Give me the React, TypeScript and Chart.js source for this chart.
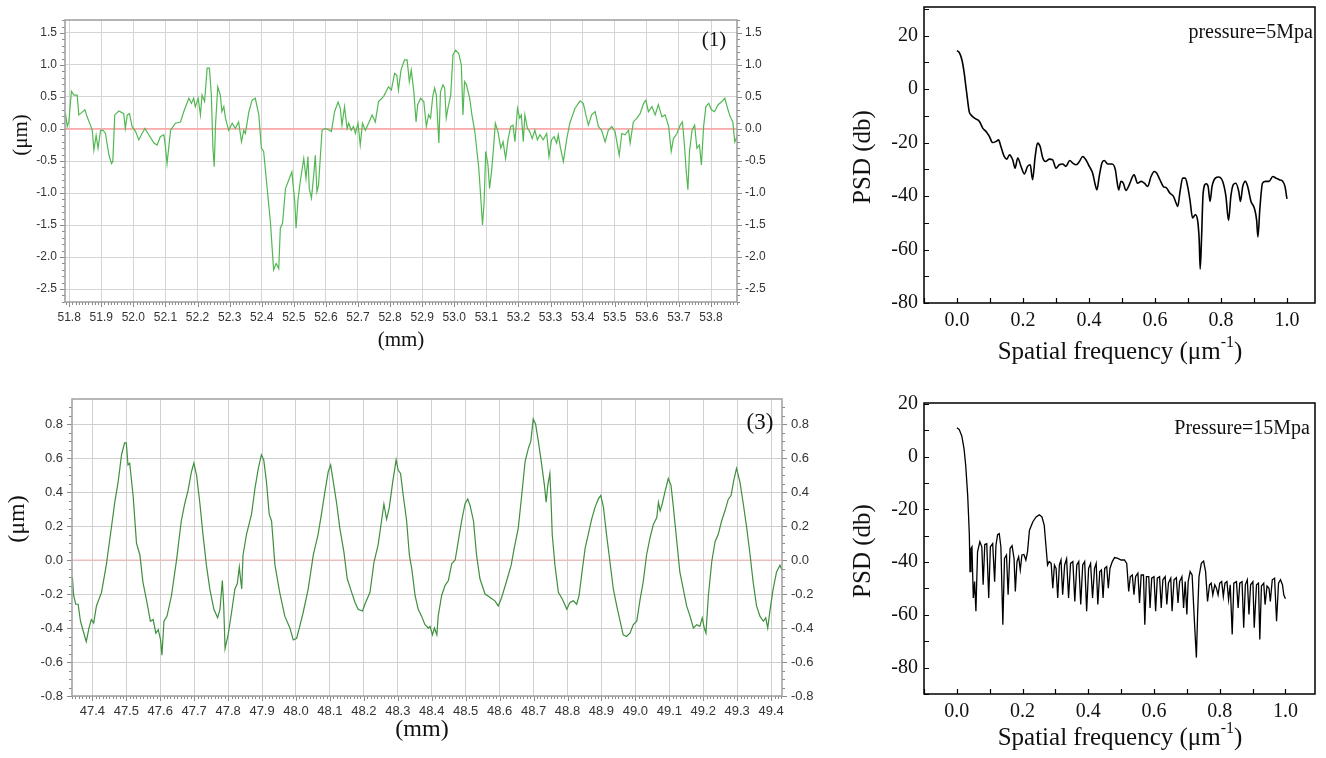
import React, { useEffect, useRef } from "react";
import { Chart, registerables } from "chart.js";

Chart.register(...registerables);

// ---------------- data ----------------
// Panel (1): surface profile, x in mm, height in µm
const PROFILE_1: [number, number][] = [
  [51.787,0.24],[51.789,0.22],[51.794,0.04],[51.799,0.11],[51.807,0.59],[51.815,0.53],[51.825,0.53],[51.830,0.22],[51.835,0.24],[51.849,0.30],[51.856,0.19],[51.866,0.06],[51.872,-0.02],[51.877,-0.33],[51.884,-0.10],[51.890,-0.30],[51.898,-0.02],[51.906,-0.02],[51.913,-0.07],[51.924,-0.41],[51.932,-0.54],[51.936,-0.51],[51.942,0.22],[51.955,0.28],[51.970,0.24],[51.975,0.01],[51.981,0.22],[51.988,0.24],[51.996,0.04],[52.007,-0.04],[52.017,-0.17],[52.027,-0.07],[52.036,0.01],[52.048,-0.09],[52.064,-0.22],[52.074,-0.25],[52.084,-0.12],[52.095,-0.09],[52.100,-0.28],[52.105,-0.54],[52.116,-0.02],[52.131,0.09],[52.147,0.11],[52.157,0.27],[52.173,0.48],[52.181,0.40],[52.188,0.48],[52.193,0.35],[52.202,0.48],[52.209,0.22],[52.214,0.53],[52.222,0.43],[52.230,0.95],[52.237,0.95],[52.243,0.53],[52.248,-0.30],[52.252,-0.59],[52.256,0.06],[52.263,0.66],[52.271,0.53],[52.276,0.27],[52.282,0.35],[52.287,0.17],[52.297,-0.02],[52.308,0.09],[52.318,0.01],[52.328,0.11],[52.337,-0.20],[52.344,-0.02],[52.349,-0.07],[52.360,0.27],[52.370,0.45],[52.380,0.48],[52.391,0.22],[52.399,-0.30],[52.406,-0.35],[52.417,-0.93],[52.427,-1.45],[52.437,-2.20],[52.445,-2.10],[52.453,-2.18],[52.458,-1.55],[52.465,-1.47],[52.474,-0.93],[52.484,-0.80],[52.494,-0.67],[52.503,-1.14],[52.507,-1.55],[52.513,-1.11],[52.520,-0.82],[52.531,-0.46],[52.538,-0.77],[52.544,-0.43],[52.548,-0.93],[52.555,-1.08],[52.562,-0.72],[52.567,-0.41],[52.572,-0.98],[52.577,-0.88],[52.588,-0.02],[52.598,0.01],[52.611,-0.02],[52.617,-0.04],[52.627,0.27],[52.638,0.42],[52.645,0.32],[52.650,0.06],[52.658,0.35],[52.666,0.01],[52.671,0.09],[52.679,-0.02],[52.686,0.04],[52.692,-0.07],[52.700,0.09],[52.707,-0.25],[52.714,0.09],[52.723,-0.02],[52.733,0.09],[52.744,0.22],[52.754,0.11],[52.764,0.43],[52.780,0.51],[52.795,0.66],[52.804,0.61],[52.814,0.87],[52.821,0.84],
  [52.826,0.61],[52.834,0.92],[52.845,1.08],[52.853,1.08],[52.860,0.74],[52.866,0.92],[52.874,0.58],[52.881,0.11],[52.886,0.38],[52.895,0.48],[52.905,0.43],[52.913,0.04],[52.920,0.22],[52.926,0.17],[52.933,0.51],[52.939,0.64],[52.944,0.53],[52.949,0.06],[52.952,-0.22],[52.957,0.58],[52.965,0.69],[52.970,0.64],[52.975,0.17],[52.980,0.32],[52.989,0.53],[52.996,1.16],[53.004,1.23],[53.014,1.18],[53.022,1.00],[53.027,0.22],[53.032,0.74],[53.038,0.69],[53.048,0.48],[53.055,0.22],[53.064,-0.04],[53.072,-0.41],[53.076,-0.59],[53.082,-1.03],[53.088,-1.50],[53.093,-1.14],[53.098,-0.35],[53.105,-0.56],[53.110,-0.93],[53.116,-0.67],[53.121,-0.38],[53.128,0.09],[53.136,-0.04],[53.145,-0.30],[53.152,-0.20],[53.160,-0.46],[53.168,-0.15],[53.176,0.04],[53.183,0.06],[53.189,-0.20],[53.197,0.32],[53.204,0.17],[53.209,0.22],[53.215,-0.20],[53.220,0.22],[53.228,0.01],[53.235,-0.04],[53.243,-0.15],[53.251,-0.02],[53.259,-0.17],[53.267,-0.09],[53.277,-0.17],[53.288,-0.07],[53.295,-0.43],[53.303,-0.17],[53.311,-0.12],[53.319,-0.22],[53.324,-0.09],[53.331,-0.30],[53.340,-0.51],[53.350,-0.17],[53.360,0.09],[53.376,0.32],[53.392,0.44],[53.402,0.40],[53.410,0.22],[53.418,0.06],[53.428,0.22],[53.439,0.27],[53.449,0.04],[53.459,-0.02],[53.470,-0.20],[53.480,-0.02],[53.491,0.04],[53.501,-0.04],[53.514,-0.41],[53.522,-0.07],[53.532,-0.09],[53.543,-0.02],[53.548,-0.22],[53.558,0.11],[53.569,0.17],[53.579,0.24],[53.590,0.40],[53.597,0.45],[53.605,0.27],[53.616,0.35],[53.626,0.22],[53.636,0.38],[53.647,0.19],[53.657,0.22],[53.668,0.04],[53.676,-0.35],[53.683,-0.15],[53.694,-0.07],[53.704,0.06],[53.711,0.11],[53.718,-0.30],[53.722,-0.61],[53.728,-0.95],[53.733,-0.35],[53.741,-0.02],[53.749,0.06],[53.756,-0.30],[53.764,-0.25],[53.770,-0.56],[53.777,0.04],[53.784,0.35],[53.793,0.40],[53.801,0.30],[53.811,0.27],[53.822,0.38],[53.834,0.43],[53.843,0.48],[53.853,0.30],[53.860,0.19],[53.868,0.11],[53.874,-0.20],[53.881,-0.12],
];

// Panel (3): surface profile, x in mm, height in µm
const PROFILE_3: [number, number][] = [
  [47.341,-0.10],[47.345,-0.21],[47.351,-0.26],[47.358,-0.26],[47.365,-0.36],[47.372,-0.41],[47.382,-0.48],[47.390,-0.40],[47.397,-0.35],[47.404,-0.37],[47.412,-0.27],[47.427,-0.19],[47.441,-0.03],[47.456,0.19],[47.466,0.34],[47.476,0.46],[47.486,0.62],[47.495,0.69],[47.500,0.69],[47.505,0.56],[47.510,0.57],[47.520,0.38],[47.530,0.10],[47.540,0.03],[47.549,-0.13],[47.561,-0.25],[47.571,-0.36],[47.579,-0.35],[47.587,-0.43],[47.594,-0.41],[47.601,-0.47],[47.605,-0.56],[47.611,-0.36],[47.620,-0.33],[47.633,-0.21],[47.648,0.00],[47.662,0.23],[47.672,0.33],[47.682,0.41],[47.692,0.52],[47.699,0.57],[47.707,0.50],[47.717,0.33],[47.726,0.15],[47.736,-0.03],[47.746,-0.17],[47.758,-0.29],[47.769,-0.34],[47.776,-0.29],[47.783,-0.12],[47.787,-0.27],[47.791,-0.52],[47.800,-0.44],[47.810,-0.31],[47.820,-0.17],[47.827,-0.14],[47.833,-0.04],[47.836,-0.10],[47.840,-0.17],[47.844,0.03],[47.854,0.15],[47.869,0.27],[47.879,0.42],[47.889,0.54],[47.898,0.62],[47.905,0.59],[47.913,0.46],[47.921,0.27],[47.928,0.23],[47.938,-0.03],[47.952,-0.19],[47.967,-0.33],[47.982,-0.40],[47.992,-0.47],[48.002,-0.46],[48.011,-0.39],[48.021,-0.31],[48.036,-0.17],[48.051,0.03],[48.065,0.15],[48.075,0.27],[48.085,0.40],[48.095,0.52],[48.102,0.56],[48.110,0.46],[48.120,0.33],[48.129,0.19],[48.141,0.05],[48.151,-0.11],[48.164,-0.19],[48.174,-0.25],[48.183,-0.29],[48.196,-0.30],[48.203,-0.26],[48.218,-0.19],[48.230,-0.01],[48.242,0.09],[48.252,0.23],[48.259,0.33],[48.267,0.24],[48.275,0.31],[48.285,0.46],[48.295,0.59],[48.301,0.53],[48.308,0.51],[48.316,0.38],[48.326,0.23],[48.334,0.03],[48.341,-0.05],[48.351,-0.21],[48.360,-0.29],[48.370,-0.33],[48.380,-0.38],[48.390,-0.40],[48.395,-0.39],[48.402,-0.44],[48.408,-0.40],[48.415,-0.44],[48.419,-0.33],
  [48.429,-0.21],[48.439,-0.15],[48.449,-0.12],[48.459,-0.02],[48.469,0.00],[48.478,0.11],[48.488,0.23],[48.498,0.33],[48.506,0.36],[48.513,0.32],[48.523,0.23],[48.532,0.03],[48.542,-0.11],[48.557,-0.20],[48.572,-0.22],[48.586,-0.24],[48.596,-0.27],[48.606,-0.22],[48.621,-0.12],[48.634,-0.03],[48.643,0.07],[48.655,0.19],[48.665,0.38],[48.675,0.58],[48.685,0.66],[48.692,0.70],[48.699,0.83],[48.706,0.80],[48.714,0.70],[48.724,0.56],[48.732,0.44],[48.737,0.34],[48.742,0.44],[48.748,0.51],[48.751,0.38],[48.755,0.15],[48.763,-0.03],[48.773,-0.19],[48.785,-0.23],[48.798,-0.29],[48.807,-0.25],[48.817,-0.24],[48.827,-0.26],[48.834,-0.21],[48.844,-0.05],[48.852,0.07],[48.861,0.15],[48.871,0.24],[48.881,0.31],[48.891,0.36],[48.898,0.38],[48.906,0.31],[48.915,0.15],[48.925,-0.01],[48.935,-0.17],[48.945,-0.27],[48.955,-0.36],[48.964,-0.44],[48.974,-0.45],[48.984,-0.43],[48.994,-0.38],[49.004,-0.36],[49.014,-0.23],[49.023,-0.13],[49.033,0.03],[49.043,0.13],[49.053,0.21],[49.063,0.25],[49.068,0.34],[49.073,0.29],[49.079,0.33],[49.087,0.40],[49.097,0.48],[49.105,0.44],[49.112,0.31],[49.122,0.11],[49.131,-0.07],[49.141,-0.17],[49.151,-0.27],[49.161,-0.33],[49.171,-0.40],[49.181,-0.38],[49.190,-0.39],[49.197,-0.34],[49.203,-0.40],[49.208,-0.43],[49.215,-0.21],[49.225,-0.01],[49.235,0.11],[49.244,0.15],[49.254,0.23],[49.264,0.29],[49.274,0.36],[49.282,0.38],[49.289,0.46],[49.298,0.54],[49.308,0.46],[49.318,0.33],[49.328,0.19],[49.338,0.03],[49.347,-0.13],[49.357,-0.27],[49.367,-0.33],[49.377,-0.36],[49.384,-0.34],[49.390,-0.40],[49.397,-0.29],[49.406,-0.17],[49.416,-0.07],[49.426,-0.03],[49.432,-0.06],
];

// PSD at pressure = 5 MPa (spatial frequency µm^-1, dB)
const PSD_5MPA: [number, number][] = [
  [0.000,14.4],[0.007,13.6],[0.015,10.9],[0.022,5.9],[0.027,0.9],[0.032,-4.0],[0.037,-8.4],[0.042,-9.6],[0.053,-10.9],[0.068,-12.1],[0.078,-14.6],[0.088,-15.9],[0.098,-17.7],[0.108,-20.0],[0.118,-19.6],[0.126,-19.0],[0.133,-21.5],[0.143,-25.2],[0.151,-26.2],[0.159,-24.6],[0.169,-26.5],[0.176,-29.6],[0.184,-25.8],[0.194,-28.9],[0.204,-31.7],[0.214,-28.9],[0.222,-28.3],[0.229,-33.9],[0.237,-25.2],[0.244,-20.2],[0.252,-21.5],[0.260,-25.8],[0.268,-27.1],[0.280,-26.2],[0.290,-26.5],[0.300,-29.6],[0.310,-28.3],[0.320,-28.0],[0.330,-28.9],[0.342,-26.7],[0.351,-27.7],[0.361,-28.3],[0.371,-27.1],[0.381,-25.2],[0.391,-26.5],[0.401,-28.9],[0.411,-31.4],[0.419,-35.8],[0.424,-37.7],[0.431,-32.7],[0.439,-27.7],[0.446,-26.7],[0.457,-28.0],[0.470,-28.0],[0.480,-30.2],[0.485,-34.5],[0.490,-37.7],[0.497,-34.5],[0.504,-35.2],[0.512,-37.9],[0.522,-35.8],[0.532,-32.7],[0.537,-32.1],[0.547,-35.2],[0.558,-34.5],[0.568,-35.2],[0.578,-36.4],[0.588,-32.7],[0.598,-30.8],[0.605,-31.4],[0.615,-33.9],[0.625,-36.4],[0.635,-37.0],[0.645,-38.9],[0.656,-40.1],[0.664,-42.6],[0.669,-43.9],[0.676,-38.3],[0.684,-33.3],[0.692,-33.3],[0.699,-36.4],[0.706,-41.4],[0.714,-48.2],[0.722,-47.0],[0.729,-48.9],[0.734,-56.3],[0.737,-67.3],[0.741,-56.3],[0.746,-38.9],[0.755,-35.4],[0.761,-36.4],[0.767,-42.0],[0.773,-36.4],[0.783,-33.3],[0.793,-32.9],[0.805,-34.5],[0.815,-40.1],[0.823,-49.1],[0.830,-40.1],[0.837,-35.8],[0.845,-35.2],[0.854,-38.3],[0.859,-42.0],[0.866,-36.4],[0.874,-34.5],[0.881,-36.4],[0.891,-42.0],[0.901,-44.5],[0.908,-48.9],[0.912,-55.3],[0.918,-44.5],[0.926,-35.2],[0.936,-34.5],[0.946,-34.5],[0.957,-32.7],[0.967,-33.3],[0.977,-33.9],[0.987,-34.5],[0.994,-36.4],[1.000,-41.1],
];

// PSD at pressure = 15 MPa (spatial frequency µm^-1, dB)
const PSD_15MPA: [number, number][] = [
  [0.000,10.9],[0.007,10.3],[0.015,7.8],[0.022,2.8],[0.027,-3.5],[0.033,-14.8],[0.036,-23.6],[0.038,-29.8],[0.040,-43.6],[0.043,-34.8],[0.046,-34.2],[0.050,-53.6],[0.054,-47.4],[0.058,-58.6],[0.063,-36.1],[0.070,-32.3],[0.076,-34.2],[0.080,-48.6],[0.085,-33.3],[0.091,-33.0],[0.097,-53.6],[0.102,-34.2],[0.109,-33.0],[0.115,-47.4],[0.119,-33.6],[0.124,-29.6],[0.129,-29.2],[0.134,-34.2],[0.140,-63.7],[0.145,-38.6],[0.151,-37.3],[0.156,-52.4],[0.162,-34.8],[0.168,-33.8],[0.174,-38.6],[0.178,-51.1],[0.183,-39.8],[0.188,-38.0],[0.193,-43.0],[0.198,-37.3],[0.204,-37.1],[0.210,-39.2],[0.215,-36.1],[0.221,-27.9],[0.231,-24.8],[0.241,-22.9],[0.251,-22.1],[0.259,-22.9],[0.266,-26.1],[0.271,-33.6],[0.276,-41.1],[0.281,-39.8],[0.287,-40.5],[0.292,-49.9],[0.297,-41.1],[0.302,-42.4],[0.307,-53.6],[0.312,-41.1],[0.317,-39.2],[0.322,-52.4],[0.328,-41.1],[0.334,-38.8],[0.340,-53.6],[0.346,-40.5],[0.353,-39.8],[0.359,-54.9],[0.365,-41.1],[0.371,-39.8],[0.377,-56.1],[0.383,-41.1],[0.389,-39.8],[0.395,-58.6],[0.401,-42.4],[0.407,-40.5],[0.413,-53.6],[0.419,-42.4],[0.424,-40.5],[0.429,-56.1],[0.435,-43.6],[0.440,-43.0],[0.445,-53.6],[0.450,-42.4],[0.456,-41.7],[0.461,-49.9],[0.466,-42.4],[0.473,-39.8],[0.480,-38.3],[0.490,-38.6],[0.500,-39.2],[0.510,-39.2],[0.517,-40.5],[0.523,-51.1],[0.528,-45.5],[0.534,-44.9],[0.539,-52.4],[0.544,-45.5],[0.551,-44.2],[0.556,-55.5],[0.561,-44.9],[0.568,-44.9],[0.572,-63.7],[0.577,-45.5],[0.584,-45.5],[0.588,-57.4],[0.593,-46.1],[0.600,-45.5],[0.605,-58.6],[0.610,-46.1],[0.617,-45.5],[0.622,-57.4],[0.627,-46.7],[0.634,-45.5],[0.639,-56.1],[0.644,-47.9],[0.651,-46.1],[0.655,-58.6],[0.661,-46.7],[0.668,-45.9],[0.673,-55.5],[0.678,-47.4],[0.685,-45.5],[0.690,-57.4],[0.695,-47.4],[0.700,-59.9],[0.704,-47.4],[0.710,-43.6],[0.716,-44.9],[0.720,-54.9],[0.724,-64.9],[0.729,-76.2],[0.733,-58.6],[0.737,-45.5],[0.744,-40.5],[0.751,-39.6],[0.757,-43.6],[0.763,-54.9],[0.769,-48.6],[0.774,-48.0],[0.779,-52.4],[0.785,-48.6],[0.790,-49.9],[0.795,-52.4],[0.800,-48.0],[0.806,-47.4],[0.811,-53.0],[0.816,-48.0],[0.822,-47.4],[0.827,-54.2],[0.832,-48.6],[0.838,-67.4],[0.843,-48.0],[0.851,-47.4],[0.856,-57.4],[0.861,-48.0],[0.868,-47.4],[0.873,-64.9],[0.878,-48.6],[0.884,-46.7],[0.889,-59.9],[0.894,-48.6],[0.901,-47.4],[0.905,-64.9],[0.912,-48.6],[0.918,-48.0],[0.922,-69.3],[0.927,-49.1],[0.934,-48.0],[0.938,-56.1],[0.944,-49.1],[0.950,-49.9],[0.954,-54.9],[0.960,-46.7],[0.967,-46.1],[0.973,-62.4],[0.979,-48.0],[0.985,-46.7],[0.991,-48.6],[0.995,-52.4],[1.000,-53.9],
];

// Axis ranges and tick steps
const P1_X = { min: 51.787, max: 53.881, step: 0.1 };
const P1_Y = { min: -2.703, max: 1.703, step: 0.5 };
const P3_X = { min: 47.34, max: 49.432, step: 0.1 };
const P3_Y = { min: -0.8, max: 0.948, step: 0.2 };
const PSD5_X = { min: -0.1, max: 1.085, step: 0.2 };
const PSD5_Y = { min: -80, max: 30.7, step: 20 };
const PSD15_X = { min: -0.1, max: 1.09, step: 0.2 };
const PSD15_Y = { min: -90, max: 20.3, step: 20 };

// Texts
const LABEL_MM = "(mm)";
const LABEL_UM = "(μm)";
const LABEL_PANEL_1 = "(1)";
const LABEL_PANEL_3 = "(3)";
const LABEL_PSD = "PSD (db)";
const LABEL_FREQ = "Spatial frequency (μm";
const LABEL_FREQ_SUP = "-1";
const LABEL_P5 = "pressure=5Mpa";
const LABEL_P15 = "Pressure=15Mpa";

// ---------------- helpers ----------------
const SERIF = '"Liberation Serif", "Times New Roman", Times, serif';
const SANS = '"Liberation Sans", Arial, Helvetica, sans-serif';

type Mark = { scale: string; edge: "bottom" | "left" | "right"; step: number; len: number };
type Part = { text: string; size: number; dy?: number };
type TextItem = { parts: Part[]; x: number; y: number; align: "left" | "center" | "right"; rotate?: number; font: string; color: string };
type Decor = { frameColor: string; frameWidth: number; tickColor: string; tickWidth: number; marks: Mark[]; texts: TextItem[] };

function decorPlugin(d: Decor) {
  return {
    id: "decor",
    afterDraw(chart: any) {
      const ctx = chart.ctx as CanvasRenderingContext2D;
      const a = chart.chartArea;
      ctx.save();
      ctx.strokeStyle = d.tickColor;
      ctx.lineWidth = d.tickWidth;
      for (const m of d.marks) {
        const s = chart.scales[m.scale];
        const n0 = Math.ceil(s.min / m.step - 1e-6);
        const n1 = Math.floor(s.max / m.step + 1e-6);
        ctx.beginPath();
        for (let n = n0; n <= n1; n++) {
          const p = Math.round(s.getPixelForValue(n * m.step)) + 0.5;
          if (m.edge === "bottom") {
            ctx.moveTo(p, a.bottom);
            ctx.lineTo(p, a.bottom + m.len);
          } else if (m.edge === "left") {
            ctx.moveTo(a.left, p);
            ctx.lineTo(a.left - m.len, p);
          } else {
            ctx.moveTo(a.right, p);
            ctx.lineTo(a.right + m.len, p);
          }
        }
        ctx.stroke();
      }
      ctx.strokeStyle = d.frameColor;
      ctx.lineWidth = d.frameWidth;
      ctx.strokeRect(a.left, a.top, a.right - a.left, a.bottom - a.top);
      for (const t of d.texts) {
        ctx.save();
        ctx.translate(t.x, t.y);
        if (t.rotate) ctx.rotate(t.rotate);
        ctx.fillStyle = t.color;
        ctx.textBaseline = "middle";
        ctx.textAlign = "left";
        const widths = t.parts.map((p) => {
          ctx.font = `${p.size}px ${t.font}`;
          return ctx.measureText(p.text).width;
        });
        const total = widths.reduce((s, w) => s + w, 0);
        let x = t.align === "center" ? -total / 2 : t.align === "right" ? -total : 0;
        t.parts.forEach((p, i) => {
          ctx.font = `${p.size}px ${t.font}`;
          ctx.fillText(p.text, x, p.dy || 0);
          x += widths[i];
        });
        ctx.restore();
      }
      ctx.restore();
    },
  };
}

function fixBox(w?: number, h?: number) {
  return (s: any) => {
    if (w !== undefined) s.width = w;
    if (h !== undefined) s.height = h;
    s.paddingTop = 0;
    s.paddingBottom = 0;
    s.paddingLeft = 0;
    s.paddingRight = 0;
  };
}

function tickOpts(family: string, size: number, padding: number, decimals: number, step: number, color: string) {
  return {
    stepSize: step,
    includeBounds: false,
    autoSkip: false,
    maxRotation: 0,
    minRotation: 0,
    padding,
    color,
    font: { family, size },
    callback: (v: any) => Number(v).toFixed(decimals),
  };
}

const toXY = (pts: [number, number][]) => pts.map(([x, y]) => ({ x, y }));

const baseOptions = (padding: any) => ({
  responsive: false,
  animation: false as const,
  devicePixelRatio: 1,
  events: [] as any[],
  layout: { padding },
  plugins: { legend: { display: false }, tooltip: { enabled: false } },
});

// ---------------- panel configs ----------------
function makeProfile1(): any {
  const gridCol = "#d5d5d5";
  return {
    type: "line",
    data: {
      datasets: [
        { data: toXY(PROFILE_1), borderColor: "#52b852", borderWidth: 1.2, pointRadius: 0, tension: 0, fill: false },
        { data: [{ x: P1_X.min, y: 0 }, { x: P1_X.max, y: 0 }], borderColor: "#ff9f9f", borderWidth: 1.5, pointRadius: 0, fill: false },
      ],
    },
    options: {
      ...baseOptions({ top: 20, left: 0, right: 0, bottom: 0 }),
      scales: {
        x: {
          type: "linear", min: P1_X.min, max: P1_X.max,
          ticks: tickOpts(SANS, 12, 8, 1, P1_X.step, "#333"),
          grid: { color: gridCol, lineWidth: 1, drawTicks: false },
          border: { display: false },
          afterFit: fixBox(undefined, 58),
        },
        y: {
          type: "linear", position: "left", min: P1_Y.min, max: P1_Y.max,
          ticks: tickOpts(SANS, 12, 8, 1, P1_Y.step, "#333"),
          grid: { color: gridCol, lineWidth: 1, drawTicks: false },
          border: { display: false },
          afterFit: fixBox(65),
        },
        y2: {
          type: "linear", position: "right", min: P1_Y.min, max: P1_Y.max,
          ticks: tickOpts(SANS, 12, 8, 1, P1_Y.step, "#333"),
          grid: { display: false, drawTicks: false },
          border: { display: false },
          afterFit: fixBox(63),
        },
      },
    },
    plugins: [
      decorPlugin({
        frameColor: "#9c9c9c", frameWidth: 1.5, tickColor: "#8a8a8a", tickWidth: 1,
        marks: [
          { scale: "x", edge: "bottom", step: 0.01, len: 3 },
          { scale: "x", edge: "bottom", step: 0.1, len: 5 },
          { scale: "y", edge: "left", step: 0.1, len: 3 },
          { scale: "y", edge: "left", step: 0.5, len: 5 },
          { scale: "y", edge: "right", step: 0.1, len: 3 },
          { scale: "y", edge: "right", step: 0.5, len: 5 },
        ],
        texts: [
          { parts: [{ text: LABEL_MM, size: 21 }], x: 401, y: 340, align: "center", font: SERIF, color: "#111" },
          { parts: [{ text: LABEL_UM, size: 21 }], x: 21, y: 135, align: "center", rotate: -Math.PI / 2, font: SERIF, color: "#111" },
          { parts: [{ text: LABEL_PANEL_1, size: 21 }], x: 714, y: 40, align: "center", font: SERIF, color: "#111" },
        ],
      }),
    ],
  };
}

function makeProfile3(): any {
  const gridCol = "#d0d0d0";
  return {
    type: "line",
    data: {
      datasets: [
        { data: toXY(PROFILE_3), borderColor: "#3e8f3e", borderWidth: 1.2, pointRadius: 0, tension: 0, fill: false },
        { data: [{ x: P3_X.min, y: 0 }, { x: P3_X.max, y: 0 }], borderColor: "#f5b3b3", borderWidth: 1, pointRadius: 0, fill: false },
      ],
    },
    options: {
      ...baseOptions({ top: 19, left: 0, right: 0, bottom: 0 }),
      scales: {
        x: {
          type: "linear", min: P3_X.min, max: P3_X.max,
          ticks: tickOpts(SANS, 13, 8, 1, P3_X.step, "#333"),
          grid: { color: gridCol, lineWidth: 1, drawTicks: false },
          border: { display: false },
          afterFit: fixBox(undefined, 62),
        },
        y: {
          type: "linear", position: "left", min: P3_Y.min, max: P3_Y.max,
          ticks: tickOpts(SANS, 13, 9, 1, P3_Y.step, "#333"),
          grid: { color: gridCol, lineWidth: 1, drawTicks: false },
          border: { display: false },
          afterFit: fixBox(72),
        },
        y2: {
          type: "linear", position: "right", min: P3_Y.min, max: P3_Y.max,
          ticks: tickOpts(SANS, 13, 9, 1, P3_Y.step, "#333"),
          grid: { display: false, drawTicks: false },
          border: { display: false },
          afterFit: fixBox(38),
        },
      },
    },
    plugins: [
      decorPlugin({
        frameColor: "#a0a0a0", frameWidth: 1.5, tickColor: "#8a8a8a", tickWidth: 1,
        marks: [
          { scale: "x", edge: "bottom", step: 0.01, len: 3 },
          { scale: "x", edge: "bottom", step: 0.1, len: 5 },
          { scale: "y", edge: "left", step: 0.05, len: 3 },
          { scale: "y", edge: "left", step: 0.2, len: 5 },
          { scale: "y", edge: "right", step: 0.05, len: 3 },
          { scale: "y", edge: "right", step: 0.2, len: 5 },
        ],
        texts: [
          { parts: [{ text: LABEL_MM, size: 24 }], x: 422, y: 350, align: "center", font: SERIF, color: "#111" },
          { parts: [{ text: LABEL_UM, size: 24 }], x: 18, y: 139, align: "center", rotate: -Math.PI / 2, font: SERIF, color: "#111" },
          { parts: [{ text: LABEL_PANEL_3, size: 23 }], x: 760, y: 43, align: "center", font: SERIF, color: "#111" },
        ],
      }),
    ],
  };
}

function makePsd(pts: [number, number][], xr: any, yr: any, padTop: number, xH: number, titleY: number, psdY: number, note: string, noteX: number, noteY: number, lw: number, smooth: boolean): any {
  return {
    type: "line",
    data: {
      datasets: [
        {
          data: toXY(pts), borderColor: "#000", borderWidth: lw, pointRadius: 0, fill: false,
          tension: 0, cubicInterpolationMode: smooth ? "monotone" : "default",
        },
      ],
    },
    options: {
      ...baseOptions({ top: padTop, left: 0, right: 11, bottom: 0 }),
      scales: {
        x: {
          type: "linear", min: xr.min, max: xr.max,
          ticks: tickOpts(SERIF, 20, 6, 1, xr.step, "#111"),
          grid: { display: false, drawTicks: false },
          border: { display: false },
          afterFit: fixBox(undefined, xH),
        },
        y: {
          type: "linear", position: "left", min: yr.min, max: yr.max,
          ticks: tickOpts(SERIF, 20, 6, 0, yr.step, "#111"),
          grid: { display: false, drawTicks: false },
          border: { display: false },
          afterFit: fixBox(124),
        },
      },
    },
    plugins: [
      decorPlugin({
        frameColor: "#000", frameWidth: 1.5, tickColor: "#000", tickWidth: 1.2,
        marks: [
          { scale: "x", edge: "bottom", step: 0.1, len: -5 },
          { scale: "y", edge: "left", step: 10, len: -5 },
        ],
        texts: [
          { parts: [{ text: LABEL_PSD, size: 25 }], x: 63, y: psdY, align: "center", rotate: -Math.PI / 2, font: SERIF, color: "#111" },
          {
            parts: [{ text: LABEL_FREQ, size: 25 }, { text: LABEL_FREQ_SUP, size: 16, dy: -9 }, { text: ")", size: 25 }],
            x: 320, y: titleY, align: "center", font: SERIF, color: "#111",
          },
          { parts: [{ text: note, size: 20 }], x: noteX, y: noteY, align: "right", font: SERIF, color: "#111" },
        ],
      }),
    ],
  };
}

const makePsd5 = () => makePsd(PSD_5MPA, PSD5_X, PSD5_Y, 7, 77, 352, 157, LABEL_P5, 513, 33, 1.6, true);
const makePsd15 = () => makePsd(PSD_15MPA, PSD15_X, PSD15_Y, 23, 64, 358, 171, LABEL_P15, 510, 49, 1.3, false);

// ---------------- components ----------------
function Panel({ left, top, width, height, make }: { left: number; top: number; width: number; height: number; make: () => any }) {
  const ref = useRef<HTMLCanvasElement>(null);
  useEffect(() => {
    if (!ref.current) return;
    const chart = new Chart(ref.current, make());
    return () => chart.destroy();
  }, [make]);
  return (
    <canvas
      ref={ref}
      width={width}
      height={height}
      style={{ position: "absolute", left, top, width, height, display: "block" }}
    />
  );
}

export default function App() {
  return (
    <div style={{ position: "absolute", left: 0, top: 0, width: 1326, height: 758, background: "#fff", overflow: "hidden" }}>
      <Panel left={0} top={0} width={800} height={360} make={makeProfile1} />
      <Panel left={0} top={380} width={820} height={378} make={makeProfile3} />
      <Panel left={800} top={0} width={526} height={380} make={makePsd5} />
      <Panel left={800} top={380} width={526} height={378} make={makePsd15} />
    </div>
  );
}
